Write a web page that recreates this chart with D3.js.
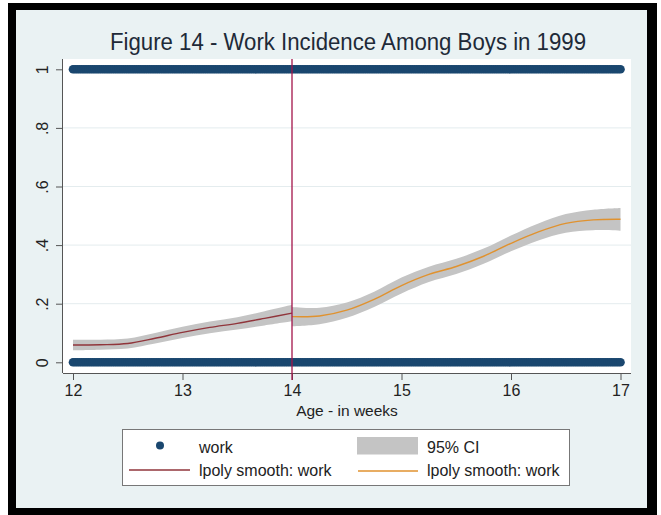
<!DOCTYPE html>
<html><head><meta charset="utf-8">
<script src="https://cdn.jsdelivr.net/npm/d3@7"></script>
<style>
html,body{margin:0;padding:0;background:#fff;}
svg{display:block;font-family:"Liberation Sans",Arial,sans-serif;}
</style></head>
<body>
<svg id="chart" width="661" height="515"></svg>
<script>
// ---- data ----
const titleText = "Figure 14 - Work Incidence Among Boys in 1999";
const xTicks = [12, 13, 14, 15, 16, 17];
const yTicks = [0, 0.2, 0.4, 0.6, 0.8, 1];
const yTickLabels = ["0", ".2", ".4", ".6", ".8", "1"];
const cutoffAge = 14;

// observed ages of the "work" scatter (each appears at 0 and at 1)
const workAges = [
 12,12.02,12.04,12.06,12.08,12.1,12.12,12.14,12.16,12.18,12.2,12.22,12.24,12.26,12.28,12.3,12.32,12.34,12.36,12.38,12.4,12.42,12.44,12.46,12.48,
 12.5,12.52,12.54,12.56,12.58,12.6,12.62,12.64,12.66,12.68,12.7,12.72,12.74,12.76,12.78,12.8,12.82,12.84,12.86,12.88,12.9,12.92,12.94,12.96,12.98,
 13,13.02,13.04,13.06,13.08,13.1,13.12,13.14,13.16,13.18,13.2,13.22,13.24,13.26,13.28,13.3,13.32,13.34,13.36,13.38,13.4,13.42,13.44,13.46,13.48,
 13.5,13.52,13.54,13.56,13.58,13.6,13.62,13.64,13.66,13.68,13.7,13.72,13.74,13.76,13.78,13.8,13.82,13.84,13.86,13.88,13.9,13.92,13.94,13.96,13.98,
 14,14.02,14.04,14.06,14.08,14.1,14.12,14.14,14.16,14.18,14.2,14.22,14.24,14.26,14.28,14.3,14.32,14.34,14.36,14.38,14.4,14.42,14.44,14.46,14.48,
 14.5,14.52,14.54,14.56,14.58,14.6,14.62,14.64,14.66,14.68,14.7,14.72,14.74,14.76,14.78,14.8,14.82,14.84,14.86,14.88,14.9,14.92,14.94,14.96,14.98,
 15,15.02,15.04,15.06,15.08,15.1,15.12,15.14,15.16,15.18,15.2,15.22,15.24,15.26,15.28,15.3,15.32,15.34,15.36,15.38,15.4,15.42,15.44,15.46,15.48,
 15.5,15.52,15.54,15.56,15.58,15.6,15.62,15.64,15.66,15.68,15.7,15.72,15.74,15.76,15.78,15.8,15.82,15.84,15.86,15.88,15.9,15.92,15.94,15.96,15.98,
 16,16.02,16.04,16.06,16.08,16.1,16.12,16.14,16.16,16.18,16.2,16.22,16.24,16.26,16.28,16.3,16.32,16.34,16.36,16.38,16.4,16.42,16.44,16.46,16.48,
 16.5,16.52,16.54,16.56,16.58,16.6,16.62,16.64,16.66,16.68,16.7,16.72,16.74,16.76,16.78,16.8,16.82,16.84,16.86,16.88,16.9,16.92,16.94,16.96,16.98,
 17
];
const workValues = [0, 1];

// lpoly smooth below cutoff (red)
const leftAges = [12, 12.25, 12.5, 12.75, 13, 13.25, 13.5, 13.75, 14];
const leftFit  = [0.059, 0.060, 0.064, 0.082, 0.102, 0.119, 0.133, 0.150, 0.168];
const leftCI   = [0.018, 0.017, 0.017, 0.018, 0.019, 0.020, 0.021, 0.024, 0.028];

// lpoly smooth above cutoff (orange)
const rightAges = [14, 14.25, 14.5, 14.75, 15, 15.25, 15.5, 15.75, 16, 16.25, 16.5, 16.75, 17];
const rightFit  = [0.156, 0.158, 0.178, 0.215, 0.262, 0.300, 0.327, 0.362, 0.406, 0.445, 0.474, 0.486, 0.488];
const rightCI   = [0.033, 0.028, 0.026, 0.026, 0.027, 0.026, 0.026, 0.026, 0.027, 0.029, 0.032, 0.035, 0.039];

const legendItems = ["work", "95% CI", "lpoly smooth: work", "lpoly smooth: work"];

// ---- drawing ----
const svg = d3.select("#chart");
const C = {bg:"#eaf2f3", navy:"#1a476f", maroon:"#90353b", orange:"#e0922f", ci:"#c4c4c4", vline:"#a3144a", axis:"#555"};

svg.append("rect").attr("x",8).attr("y",3).attr("width",649).attr("height",512).attr("fill","#000");
svg.append("rect").attr("x",16).attr("y",10).attr("width",631).attr("height",498).attr("fill",C.bg);

const plot = {l:63, r:631, t:59, b:373};
svg.append("rect").attr("x",plot.l).attr("y",plot.t).attr("width",plot.r-plot.l).attr("height",plot.b-plot.t).attr("fill","#fff");

const x = d3.scaleLinear().domain([12,17]).range([73,620.5]);
const y = d3.scaleLinear().domain([0,1]).range([362.3,69.3]);

// gridlines
svg.append("g").selectAll("line").data(yTicks.filter(v=>v>0&&v<1)).join("line")
  .attr("x1",plot.l).attr("x2",plot.r).attr("y1",d=>y(d)).attr("y2",d=>y(d))
  .attr("stroke","#e4ecee").attr("stroke-width",1);

// CI bands
function band(ages, fit, ci){
  const pts = ages.map((a,i)=>({a, lo:fit[i]-ci[i], hi:fit[i]+ci[i]}));
  svg.append("path").datum(pts)
    .attr("d", d3.area().x(d=>x(d.a)).y0(d=>y(d.lo)).y1(d=>y(d.hi)).curve(d3.curveCatmullRom))
    .attr("fill",C.ci);
}
band(leftAges, leftFit, leftCI);
band(rightAges, rightFit, rightCI);

// scatter
const pts = [];
workValues.forEach(v=>workAges.forEach(a=>pts.push({a,v})));
svg.append("g").selectAll("circle").data(pts).join("circle")
  .attr("cx",d=>x(d.a)).attr("cy",d=>y(d.v)).attr("r",4.3).attr("fill",C.navy);

// lines
function fitLine(ages, fit, color){
  svg.append("path").datum(ages.map((a,i)=>({a, v:fit[i]})))
    .attr("d", d3.line().x(d=>x(d.a)).y(d=>y(d.v)).curve(d3.curveCatmullRom))
    .attr("fill","none").attr("stroke",color).attr("stroke-width",1.4);
}
fitLine(leftAges, leftFit, C.maroon);
fitLine(rightAges, rightFit, C.orange);

// axes
const xAxis = svg.append("g").attr("transform",`translate(0,${plot.b})`)
  .call(d3.axisBottom(x).tickValues(xTicks).tickSize(7).tickPadding(5).tickFormat(d3.format("d")));
xAxis.select(".domain").attr("d",`M${plot.l},0.5H${plot.r}`).attr("stroke",C.axis);
xAxis.selectAll(".tick line").attr("stroke",C.axis);
xAxis.selectAll(".tick text").attr("font-size",16).attr("fill","#222").attr("font-family","Liberation Sans, Arial, sans-serif");

const yAxis = svg.append("g").attr("transform",`translate(${plot.l},0)`)
  .call(d3.axisLeft(y).tickValues(yTicks).tickSize(7).tickFormat((d,i)=>yTickLabels[i]));
yAxis.select(".domain").attr("d",`M-0.5,${plot.t}V${plot.b}`).attr("stroke",C.axis);
yAxis.selectAll(".tick line").attr("stroke",C.axis);
yAxis.selectAll(".tick text").attr("font-size",16).attr("fill","#222")
  .attr("font-family","Liberation Sans, Arial, sans-serif")
  .attr("x",0).attr("dy",null).attr("text-anchor","middle")
  .attr("transform","translate(-15,0) rotate(-90)").attr("y",0);

// cutoff vertical line
svg.append("line").attr("x1",x(cutoffAge)).attr("x2",x(cutoffAge)).attr("y1",plot.t).attr("y2",plot.b+7)
  .attr("stroke",C.vline).attr("stroke-width",1.3);

// titles
svg.append("text").attr("x",348).attr("y",50).attr("text-anchor","middle")
  .attr("font-size",23).attr("fill","#1e2a38").attr("textLength",476).attr("lengthAdjust","spacingAndGlyphs")
  .text(titleText);
svg.append("text").attr("x",347).attr("y",416).attr("text-anchor","middle")
  .attr("font-size",15.5).attr("fill","#222").text("Age - in weeks");

// legend
const lg = svg.append("g");
lg.append("rect").attr("x",122.5).attr("y",429.5).attr("width",447).attr("height",56).attr("fill","#fff").attr("stroke","#777");
lg.append("circle").attr("cx",160).attr("cy",445.5).attr("r",4).attr("fill",C.navy);
lg.append("rect").attr("x",357).attr("y",437).attr("width",61).attr("height",17.5).attr("fill",C.ci);
lg.append("line").attr("x1",129).attr("x2",190).attr("y1",470).attr("y2",470).attr("stroke",C.maroon).attr("stroke-width",1.4);
lg.append("line").attr("x1",358).attr("x2",418).attr("y1",471).attr("y2",471).attr("stroke",C.orange).attr("stroke-width",1.4);
const lpos = [[199,452.5],[427,452.5],[199,476],[427,476]];
lg.selectAll("text").data(legendItems).join("text")
  .attr("x",(d,i)=>lpos[i][0]).attr("y",(d,i)=>lpos[i][1])
  .attr("font-size",16).attr("fill","#222").text(d=>d);
</script>
</body></html>
